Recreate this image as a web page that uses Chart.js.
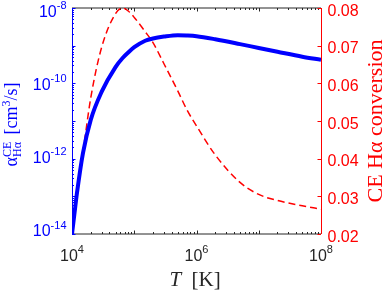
<!DOCTYPE html>
<html>
<head>
<meta charset="utf-8">
<script src="https://cdn.jsdelivr.net/npm/chart.js@4"></script>
<style>
  html, body { margin: 0; padding: 0; background: #fff; }
  #wrap { width: 389px; height: 295px; }
</style>
</head>
<body>
<div id="wrap"><canvas id="ceChart" width="389" height="295"></canvas></div>
<script>
// ======================
// Data
// ======================
// temperature [K]
const temps = [1e4, 1.1e4, 1.2e4, 1.5e4, 2e4, 3e4, 5e4, 6.5e4, 8e4, 1e5, 1.5e5,
  2e5, 3e5, 5e5, 7e5, 1e6, 2e6, 5e6, 1e7, 2e7, 5e7, 1e8];
// CE H-alpha rate coefficient [cm^3/s] (left axis)
const alphaCE = [1.0e-14, 3.7e-14, 1.2e-13, 1.4e-12, 1.07e-11, 6.0e-11, 2.7e-10,
  4.7e-10, 6.6e-10, 9.1e-10, 1.35e-9, 1.55e-9, 1.74e-9, 1.9e-9, 1.86e-9, 1.78e-9,
  1.48e-9, 1.1e-9, 8.7e-10, 6.9e-10, 5.1e-10, 4.2e-10];
// CE H-alpha conversion (right axis)
const convCE = [0.0215, 0.026, 0.0302, 0.0416, 0.0561, 0.0696, 0.0785, 0.0800,
  0.0792, 0.0775, 0.0737, 0.0708, 0.0652, 0.058, 0.053, 0.0487, 0.041, 0.0337,
  0.0305, 0.0289, 0.0275, 0.0266];

// tick labels
const xTickVals = [1e4, 1e6, 1e8];
const xTickExp = ["4", "6", "8"];
const leftTickVals = [1e-14, 1e-12, 1e-10, 1e-8];
const leftTickExp = ["-14", "-12", "-10", "-8"];
const rightTickVals = [0.02, 0.03, 0.04, 0.05, 0.06, 0.07, 0.08];

const BLUE = "#0000ff";
const RED = "#ff0000";
const AXIS = "#262626";
const SANS = "'Liberation Sans', Arial, sans-serif";
const SERIF = "'Liberation Serif', 'Times New Roman', serif";

// draws "10" with a raised exponent
function drawPow(ctx, x, base, exp, align, color) {
  ctx.fillStyle = color;
  ctx.textBaseline = "alphabetic";
  ctx.textAlign = "left";
  ctx.font = "16px " + SANS;
  const w10 = ctx.measureText("10").width;
  ctx.font = "11px " + SANS;
  const wExp = ctx.measureText(exp).width;
  const total = w10 + wExp;
  let start = x - total / 2;
  if (align === "right") start = x - total;
  ctx.font = "16px " + SANS;
  ctx.fillText("10", start, base);
  ctx.font = "11px " + SANS;
  ctx.fillText(exp, start + w10, base - 7.5);
}

const decor = {
  id: "decor",
  beforeDatasetsDraw(chart) {
    const { ctx, chartArea: a, scales } = chart;
    ctx.save();
    ctx.lineWidth = 1;

    // x ticks (top and bottom, pointing inward)
    ctx.strokeStyle = AXIS;
    for (let e = 4; e <= 8; e++) {
      for (let m = 1; m <= 9; m++) {
        const v = m * Math.pow(10, e);
        if (v > 1e8) break;
        const px = Math.round(scales.x.getPixelForValue(v)) + 0.5;
        const len = m === 1 ? 3.5 : 2;
        ctx.beginPath();
        ctx.moveTo(px, a.bottom); ctx.lineTo(px, a.bottom - len);
        ctx.moveTo(px, a.top); ctx.lineTo(px, a.top + len);
        ctx.stroke();
      }
    }
    // top / bottom frame
    ctx.beginPath();
    ctx.moveTo(a.left, a.top); ctx.lineTo(a.right, a.top);
    ctx.moveTo(a.left, a.bottom); ctx.lineTo(a.right, a.bottom);
    ctx.stroke();

    // left axis (blue)
    ctx.strokeStyle = BLUE;
    for (let e = -14; e <= -8; e++) {
      for (let m = 1; m <= 9; m++) {
        const v = m * Math.pow(10, e);
        if (v > 1e-8 * 1.0001) break;
        const py = Math.round(scales.y.getPixelForValue(v)) + 0.5;
        const len = m === 1 ? 3.5 : 2;
        ctx.beginPath();
        ctx.moveTo(a.left, py); ctx.lineTo(a.left + len, py);
        ctx.stroke();
      }
    }
    ctx.beginPath();
    ctx.moveTo(a.left + 0.5, a.top); ctx.lineTo(a.left + 0.5, a.bottom);
    ctx.stroke();

    // right axis (red)
    ctx.strokeStyle = RED;
    rightTickVals.forEach((v) => {
      const py = Math.round(scales.y2.getPixelForValue(v)) + 0.5;
      ctx.beginPath();
      ctx.moveTo(a.right, py); ctx.lineTo(a.right - 3.5, py);
      ctx.stroke();
    });
    ctx.beginPath();
    ctx.moveTo(a.right + 0.5, a.top); ctx.lineTo(a.right + 0.5, a.bottom);
    ctx.stroke();
    ctx.restore();
  },
  afterDraw(chart) {
    const { ctx, chartArea: a, scales } = chart;
    ctx.save();

    // x tick labels
    xTickVals.forEach((v, i) => {
      drawPow(ctx, scales.x.getPixelForValue(v), a.bottom + 26.5, xTickExp[i], "center", AXIS);
    });
    // left tick labels (MATLAB squeezes these a bit toward the middle)
    leftTickVals.forEach((v, i) => {
      const py = scales.y.getPixelForValue(v);
      const f = (py - a.top) / (a.bottom - a.top);
      drawPow(ctx, a.left - 5.5, py + 8.5 - 6.5 * f, leftTickExp[i], "right", BLUE);
    });
    // right tick labels
    ctx.fillStyle = RED;
    ctx.font = "16px " + SANS;
    ctx.textAlign = "left";
    ctx.textBaseline = "alphabetic";
    rightTickVals.forEach((v) => {
      ctx.fillText(v.toFixed(2), a.right + 6.5, scales.y2.getPixelForValue(v) + 7.5);
    });

    // x title: T [K]
    const cx = (a.left + a.right) / 2;
    ctx.fillStyle = AXIS;
    ctx.font = "italic 21px " + SERIF;
    ctx.fillText("T", cx - 27, 286);
    ctx.font = "21px " + SERIF;
    ctx.fillText("[K]", cx - 5, 286);

    // left title: alpha_Halpha^CE [cm^3/s]
    const parts = [
      { t: "\u03b1", f: "18px", dy: 0 },
      { t: "CE", f: "12px", dy: -6.5, stack: true },
      { t: "H\u03b1", f: "12px", dy: 3.5 },
      { t: " [cm", f: "18px", dy: 0, gap: 3 },
      { t: "3", f: "12px", dy: -7 },
      { t: "/s]", f: "18px", dy: 0 }
    ];
    let total = 0;
    parts.forEach((p) => {
      ctx.font = p.f + " " + SERIF;
      p.w = ctx.measureText(p.t).width;
      if (!p.stack) total += p.w + (p.gap || 0);
    });
    ctx.translate(17, (a.top + a.bottom) / 2 + 3.5);
    ctx.rotate(-Math.PI / 2);
    ctx.fillStyle = BLUE;
    let x = -total / 2;
    parts.forEach((p) => {
      ctx.font = p.f + " " + SERIF;
      x += p.gap || 0;
      ctx.fillText(p.t, x, p.dy);
      if (!p.stack) x += p.w;
    });
    ctx.setTransform(1, 0, 0, 1, 0, 0);

    // right title
    ctx.translate(382, (a.top + a.bottom) / 2);
    ctx.rotate(-Math.PI / 2);
    ctx.fillStyle = RED;
    ctx.font = "22px " + SERIF;
    ctx.textAlign = "center";
    ctx.fillText("CE H\u03b1 conversion", 0, 0);
    ctx.restore();
  }
};

const ctx = document.getElementById("ceChart").getContext("2d");
new Chart(ctx, {
  type: "line",
  data: {
    datasets: [
      {
        label: "alpha CE",
        data: temps.map((t, i) => ({ x: t, y: alphaCE[i] })),
        yAxisID: "y",
        borderColor: BLUE,
        borderWidth: 4,
        pointRadius: 0,
        cubicInterpolationMode: "monotone",
        fill: false,
      },
      {
        label: "CE conversion",
        data: temps.map((t, i) => ({ x: t, y: convCE[i] })),
        yAxisID: "y2",
        borderColor: RED,
        borderWidth: 1.5,
        borderDash: [7, 4],
        pointRadius: 0,
        cubicInterpolationMode: "monotone",
        fill: false,
      },
    ],
  },
  options: {
    responsive: false,
    animation: false,
    devicePixelRatio: 1,
    layout: { padding: { top: 8, left: 0, right: 0, bottom: 0 } },
    plugins: { legend: { display: false }, tooltip: { enabled: false } },
    scales: {
      x: {
        type: "logarithmic",
        min: 1e4,
        max: 1e8,
        grid: { display: false },
        border: { display: false },
        ticks: { display: false },
        afterFit: (s) => { s.height = 61; },
      },
      y: {
        type: "logarithmic",
        position: "left",
        min: 1e-14,
        max: 1e-8,
        grid: { display: false },
        border: { display: false },
        ticks: { display: false },
        afterFit: (s) => { s.width = 72; },
      },
      y2: {
        type: "linear",
        position: "right",
        min: 0.02,
        max: 0.08,
        grid: { display: false },
        border: { display: false },
        ticks: { display: false },
        afterFit: (s) => { s.width = 68; },
      },
    },
  },
  plugins: [decor],
});
</script>
</body>
</html>
